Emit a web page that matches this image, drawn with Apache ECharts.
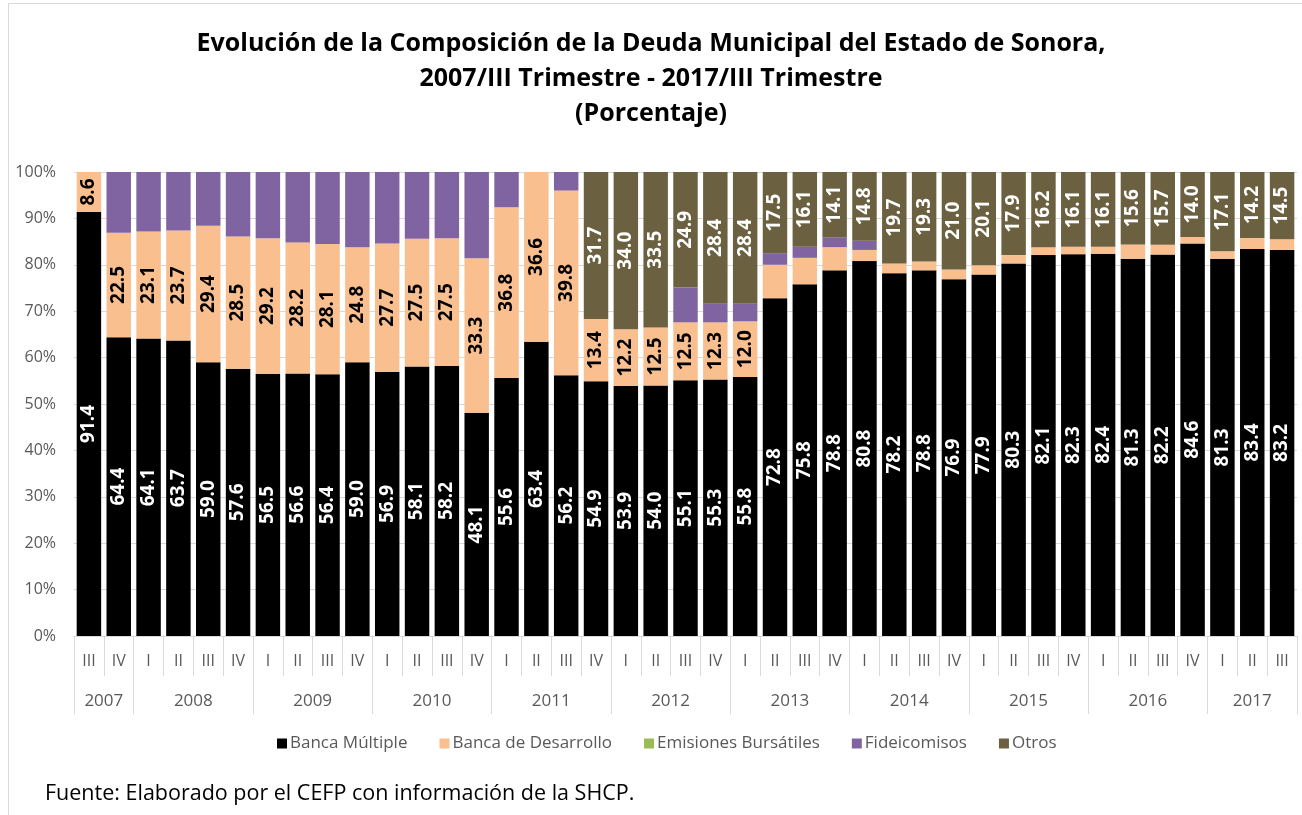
<!DOCTYPE html>
<html>
<head>
<meta charset="utf-8">
<script src="https://cdn.jsdelivr.net/npm/echarts@6/dist/echarts.min.js"></script>
<style>
html,body{margin:0;padding:0;background:#fff;}
#c{width:1302px;height:815px;}
</style>
</head>
<body>
<div id="c"></div>
<script>
const quarters = ['III','IV','I','II','III','IV','I','II','III','IV','I','II','III','IV','I','II','III','IV','I','II','III','IV','I','II','III','IV','I','II','III','IV','I','II','III','IV','I','II','III','IV','I','II','III'];
const years = ['2007','2008','2009','2010','2011','2012','2013','2014','2015','2016','2017'];
const yearQuarterCounts = [2,4,4,4,4,4,4,4,4,4,3];

const bancaMultiple = [91.4,64.4,64.1,63.7,59.0,57.6,56.5,56.6,56.4,59.0,56.9,58.1,58.2,48.1,55.6,63.4,56.2,54.9,53.9,54.0,55.1,55.3,55.8,72.8,75.8,78.8,80.8,78.2,78.8,76.9,77.9,80.3,82.1,82.3,82.4,81.3,82.2,84.6,81.3,83.4,83.2];
const bancaDesarrollo = [8.6,22.5,23.1,23.7,29.4,28.5,29.2,28.2,28.1,24.8,27.7,27.5,27.5,33.3,36.8,36.6,39.8,13.4,12.2,12.5,12.5,12.3,12.0,7.2,5.7,5.0,2.4,2.1,1.9,2.1,2.0,1.8,1.7,1.6,1.5,3.1,2.1,1.4,1.6,2.4,2.3];
const emisionesBursatiles = [0,0,0,0,0,0,0,0,0,0,0,0,0,0,0,0,0,0,0,0,0,0,0,0,0,0,0,0,0,0,0,0,0,0,0,0,0,0,0,0,0];
const fideicomisos = [0,13.1,12.8,12.6,11.6,13.9,14.3,15.2,15.5,16.2,15.4,14.4,14.3,18.6,7.6,0,4.0,0,0,0,7.5,4.0,3.8,2.5,2.4,2.1,2.0,0,0,0,0,0,0,0,0,0,0,0,0,0,0];
const otros = [0,0,0,0,0,0,0,0,0,0,0,0,0,0,0,0,0,31.7,34.0,33.5,24.9,28.4,28.4,17.5,16.1,14.1,14.8,19.7,19.3,21.0,20.1,17.9,16.2,16.1,16.1,15.6,15.7,14.0,17.1,14.2,14.5];
const desarrolloLabelCount = 23;

// year axis: half-slot positions (2 per quarter), boundary ticks and centered labels
const yearSlots = new Array(quarters.length * 2 + 1).fill('');
const yearBoundaries = new Set([0]);
let pos = 0;
years.forEach((y, i) => {
  const span = yearQuarterCounts[i] * 2;
  yearSlots[pos + span / 2] = y;
  pos += span;
  yearBoundaries.add(pos);
});

const FONT = "'Open Sans', 'Noto Sans', sans-serif";
const chart = echarts.init(document.getElementById('c'));

function lbl(color, fn) {
  return {
    show: true, position: 'inside', rotate: 90,
    color: color, fontFamily: FONT, fontWeight: 'bold', fontSize: 19,
    formatter: fn
  };
}

chart.setOption({
  animation: false,
  backgroundColor: '#ffffff',
  title: {
    text: 'Evolución de la Composición de la Deuda Municipal del Estado de Sonora,\n2007/III Trimestre - 2017/III Trimestre\n(Porcentaje)',
    left: 'center', top: 21,
    textStyle: { fontFamily: FONT, fontWeight: 'bold', fontSize: 25, color: '#000', lineHeight: 35 }
  },
  legend: {
    top: 730, left: 272,
    itemWidth: 10, itemHeight: 10, itemGap: 32,
    icon: 'rect',
    textStyle: { fontFamily: FONT, fontSize: 17, color: '#595959', padding: [0,0,0,-2] },
    data: ['Banca Múltiple','Banca de Desarrollo','Emisiones Bursátiles','Fideicomisos','Otros']
  },
  grid: { left: 74, right: 5, top: 172, bottom: 179 },
  yAxis: {
    type: 'value', min: 0, max: 100, interval: 10,
    axisLabel: { formatter: '{value}%', fontFamily: FONT, fontSize: 16, color: '#595959', margin: 18 },
    axisLine: { show: false }, axisTick: { show: false },
    splitLine: { lineStyle: { color: '#d9d9d9', width: 1 } }
  },
  xAxis: [
    {
      type: 'category', data: quarters, position: 'bottom',
      axisLine: { show: true, lineStyle: { color: '#d9d9d9' } },
      axisTick: { show: true, interval: 0, length: 40, lineStyle: { color: '#d9d9d9' } },
      axisLabel: { interval: 0, fontFamily: FONT, fontSize: 16, color: '#595959', margin: 17 }
    },
    {
      type: 'category', data: yearSlots, position: 'bottom', boundaryGap: false,
      axisLine: { show: false },
      axisTick: { show: true, length: 78, lineStyle: { color: '#d9d9d9' },
        interval: (i) => yearBoundaries.has(i) },
      axisLabel: { interval: 0, fontFamily: FONT, fontSize: 17, color: '#595959', margin: 57 }
    }
  ],
  series: [
    { name: 'Banca Múltiple', type: 'bar', stack: 't', data: bancaMultiple, barCategoryGap: '18%',
      itemStyle: { color: '#000000' },
      label: lbl('#ffffff', p => p.value ? p.value.toFixed(1) : '') },
    { name: 'Banca de Desarrollo', type: 'bar', stack: 't', data: bancaDesarrollo,
      itemStyle: { color: '#F9BF8F' },
      label: lbl('#000000', p => p.dataIndex < desarrolloLabelCount ? p.value.toFixed(1) : '') },
    { name: 'Emisiones Bursátiles', type: 'bar', stack: 't', data: emisionesBursatiles,
      itemStyle: { color: '#9BBB59' } },
    { name: 'Fideicomisos', type: 'bar', stack: 't', data: fideicomisos,
      itemStyle: { color: '#8064A2' } },
    { name: 'Otros', type: 'bar', stack: 't', data: otros,
      itemStyle: { color: '#6B6140' },
      label: lbl('#ffffff', p => p.value ? p.value.toFixed(1) : '') }
  ],
  graphic: [
    { type: 'rect', shape: { x: 8.5, y: 3.5, width: 1400, height: 900 },
      style: { fill: 'none', stroke: '#d9d9d9', lineWidth: 1 }, silent: true },
    { type: 'text', left: 45, top: 783,
      style: { text: 'Fuente: Elaborado por el CEFP con información de la SHCP.', fontFamily: FONT, fontSize: 21.5, fill: '#000' } }
  ]
});
</script>
</body>
</html>
